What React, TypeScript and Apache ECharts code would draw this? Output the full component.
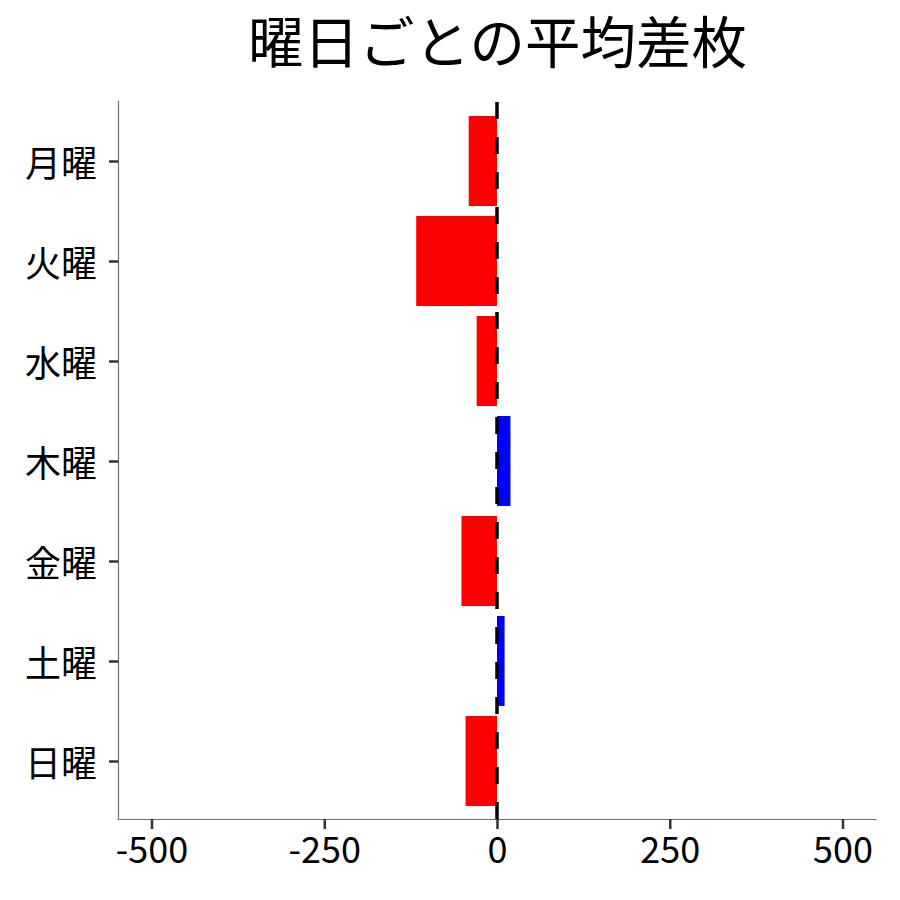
import React, { useEffect, useRef } from "react";
import * as echarts from "echarts";

const title = "曜日ごとの平均差枚";
const days = ["月曜", "火曜", "水曜", "木曜", "金曜", "土曜", "日曜"];
const meanDiff = [-41, -117, -29.5, 19.5, -51.5, 11, -45.5];
const xTicks = [-500, -250, 0, 250, 500];
const zeroLine = [
  [0, 0],
  [0, 1],
];

export default function App() {
  const ref = useRef<HTMLDivElement>(null);
  useEffect(() => {
    const chart = echarts.init(ref.current!, null, { renderer: "svg" });
    const font = "'Noto Sans CJK JP', 'Noto Sans', sans-serif";
    chart.setOption({
      animation: false,
      backgroundColor: "#ffffff",
      textStyle: { fontFamily: font },
      title: {
        text: title,
        left: 243,
        top: 6,
        textStyle: { fontSize: 55.5, fontWeight: "normal", color: "#000", fontFamily: font },
      },
      grid: [
        { left: 118, right: 24, top: 111, bottom: 89 },
        { left: 118, right: 24, top: 101, bottom: 81 },
        { left: 152, right: 57, top: 101, bottom: 81 },
      ],
      xAxis: [
        { type: "value", gridIndex: 0, min: -549, max: 549, show: false },
        {
          type: "value",
          gridIndex: 1,
          min: -549,
          max: 549,
          axisLine: { show: true, onZero: false, lineStyle: { color: "#6e6e6e", width: 1.2 } },
          axisTick: { show: false },
          axisLabel: { show: false },
          splitLine: { show: false },
        },
        {
          type: "value",
          gridIndex: 2,
          position: "bottom",
          min: -500,
          max: 500,
          interval: 250,
          axisLine: { show: false, onZero: false },
          axisTick: { show: false },
          axisLabel: { fontSize: 36, color: "#000", margin: 10, fontFamily: font },
          splitLine: { show: false },
        },
      ],
      yAxis: [
        {
          type: "category",
          gridIndex: 0,
          data: days,
          inverse: true,
          axisLine: { show: false, onZero: false },
          axisTick: { show: true, alignWithLabel: true, length: 9, lineStyle: { color: "#333", width: 2.5 } },
          axisLabel: { fontSize: 36, color: "#000", margin: 21, fontFamily: font },
          splitLine: { show: false },
        },
        {
          type: "value",
          gridIndex: 1,
          min: 0,
          max: 1,
          axisLine: { show: true, onZero: false, lineStyle: { color: "#6e6e6e", width: 1.2 } },
          axisTick: { show: false },
          axisLabel: { show: false },
          splitLine: { show: false },
        },
        {
          type: "value",
          gridIndex: 2,
          min: 0,
          max: 1,
          axisLine: { show: false },
          axisTick: { show: false },
          axisLabel: { show: false },
          splitLine: { show: false },
        },
      ],
      series: [
        {
          type: "bar",
          xAxisIndex: 0,
          yAxisIndex: 0,
          barWidth: "90%",
          data: meanDiff.map((v) => ({
            value: v,
            itemStyle: { color: v < 0 ? "#ff0000" : "#0000ff" },
          })),
        },
        {
          type: "line",
          xAxisIndex: 1,
          yAxisIndex: 1,
          data: zeroLine,
          symbol: "none",
          z: 10,
          lineStyle: { color: "#000", width: 3.5, type: [17, 18] },
        },
      ],
    });
    // x-axis ticks placed through the axis scale
    const y0 = chart.convertToPixel({ yAxisIndex: 2 }, 0) as number;
    chart.setOption({
      graphic: xTicks.map((t) => {
        const x = chart.convertToPixel({ xAxisIndex: 2 }, t) as number;
        return {
          type: "line",
          z: 100,
          silent: true,
          shape: { x1: x, y1: y0, x2: x, y2: y0 + 10 },
          style: { stroke: "#333", lineWidth: 2.5 },
        };
      }),
    });
    return () => chart.dispose();
  }, []);
  return <div ref={ref} style={{ width: 900, height: 900, margin: -8 }} />;
}
